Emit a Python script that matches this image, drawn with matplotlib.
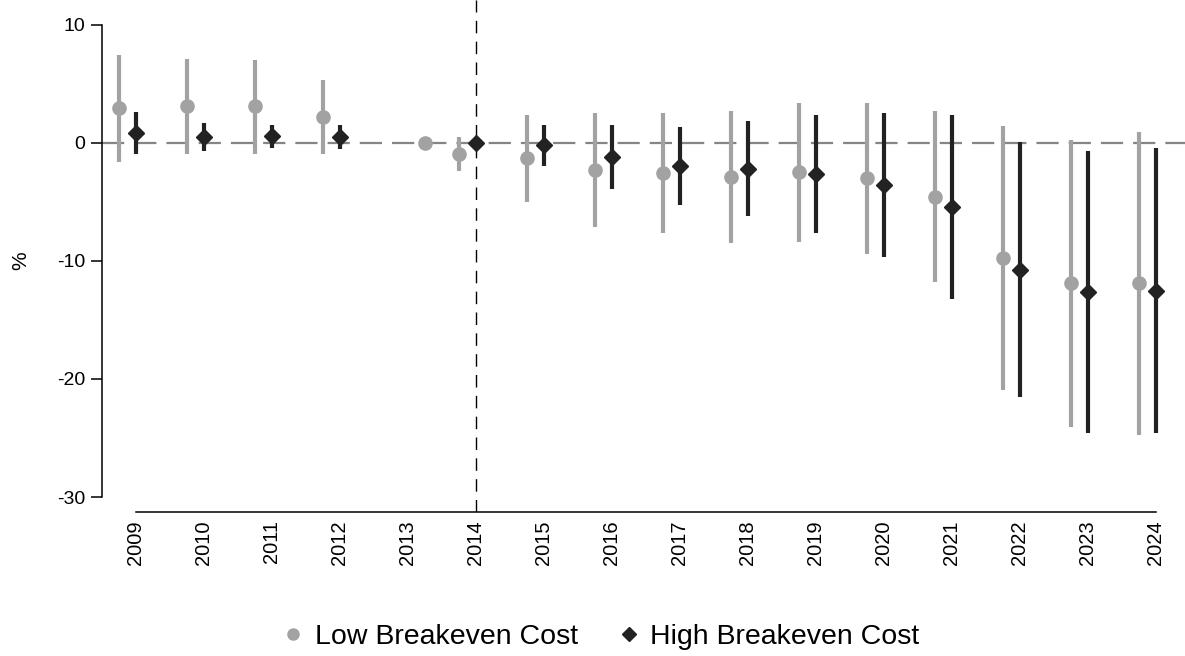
import matplotlib
matplotlib.use("Agg")
import matplotlib.pyplot as plt
from matplotlib.lines import Line2D
import numpy as np

plt.rcParams['font.family'] = ['Liberation Sans', 'DejaVu Sans']

years = np.arange(2009, 2025)
year_labels = [str(y) for y in years]

# low breakeven cost: estimate and 95% CI (2013 is the reference year, no CI)
low_x = [2008.75, 2009.75, 2010.75, 2011.75, 2013.25, 2013.75, 2014.75, 2015.75,
         2016.75, 2017.75, 2018.75, 2019.75, 2020.75, 2021.75, 2022.75, 2023.75]
low_est = [2.94, 3.08, 3.08, 2.23, 0.0, -0.93, -1.30, -2.29,
           -2.57, -2.86, -2.49, -3.02, -4.55, -9.77, -11.89, -11.89]
low_hi = [7.46, 7.09, 7.03, 5.34, 0.0, 0.48, 2.37, 2.52,
          2.52, 2.71, 3.36, 3.36, 2.71, 1.44, 0.25, 0.91]
low_lo = [-1.64, -0.96, -0.96, -0.93, 0.0, -2.37, -4.97, -7.09,
          -7.65, -8.45, -8.36, -9.40, -11.80, -20.93, -24.04, -24.75]

# high breakeven cost (no estimate drawn for 2013)
high_x = [2009, 2010, 2011, 2012, 2014, 2015, 2016, 2017,
          2018, 2019, 2020, 2021, 2022, 2023, 2024]
high_est = [0.87, 0.53, 0.56, 0.53, -0.05, -0.17, -1.16, -1.95,
            -2.20, -2.63, -3.56, -5.45, -10.76, -12.65, -12.52]
high_hi = [2.60, 1.72, 1.50, 1.50, -0.05, 1.53, 1.53, 1.38,
           1.81, 2.32, 2.57, 2.32, 0.03, -0.68, -0.45]
high_lo = [-0.93, -0.68, -0.40, -0.48, -0.05, -1.92, -3.87, -5.28,
           -6.16, -7.60, -9.69, -13.25, -21.50, -24.60, -24.60]

gray = '#a2a2a2'
dark = '#222222'

fig = plt.figure(figsize=(11.85, 6.56), dpi=100)
ax = fig.add_axes([102 / 1185, 1 - 512 / 656, 1 - 102 / 1185, 512 / 656])

ax.axhline(0, color='#858585', lw=1.6, dashes=(10, 4.5), zorder=1)
ax.axvline(2014, color='black', lw=1.0, dashes=(9, 6), zorder=1)

ax.vlines(low_x, low_lo, low_hi, color=gray, lw=3.0, zorder=2)
ax.plot(low_x, low_est, 'o', color=gray, ms=9.5, zorder=3)
ax.vlines(high_x, high_lo, high_hi, color=dark, lw=3.0, zorder=4)
ax.plot(high_x, high_est, 'D', color=dark, ms=8.5, zorder=5)

ax.set_xlim(2008.5, 2024.43)
ax.set_ylim(-31.27, 12.1)

for side in ['top', 'right']:
    ax.spines[side].set_visible(False)
ax.spines['left'].set_bounds(-30, 10)
ax.spines['bottom'].set_bounds(2009, 2024)
ax.spines['left'].set_linewidth(1.1)
ax.spines['bottom'].set_linewidth(1.1)

ax.set_yticks([-30, -20, -10, 0, 10])
ax.set_yticklabels(['-30', '-20', '-10', '0', '10'])
ax.set_xticks(years)
ax.set_xticklabels(year_labels, rotation=90)
ax.tick_params(axis='y', length=8, width=1.1, pad=4, labelsize=14)
ax.tick_params(axis='x', length=0, pad=6, labelsize=14.5)

ax.set_ylabel('%', fontsize=15)
ax.yaxis.set_label_coords(-0.066, 0.49)

handles = [
    Line2D([], [], ls='none', marker='o', color=gray, ms=8),
    Line2D([], [], ls='none', marker='D', color=dark, ms=7),
]
fig.legend(handles, ['Low Breakeven Cost', 'High Breakeven Cost'],
           loc='center', bbox_to_anchor=(0.507, 1 - 637 / 656),
           ncol=2, frameon=False, fontsize=20.5, handletextpad=0.35,
           columnspacing=1.4, handlelength=0.8)

fig.savefig('out.png', dpi=100)
